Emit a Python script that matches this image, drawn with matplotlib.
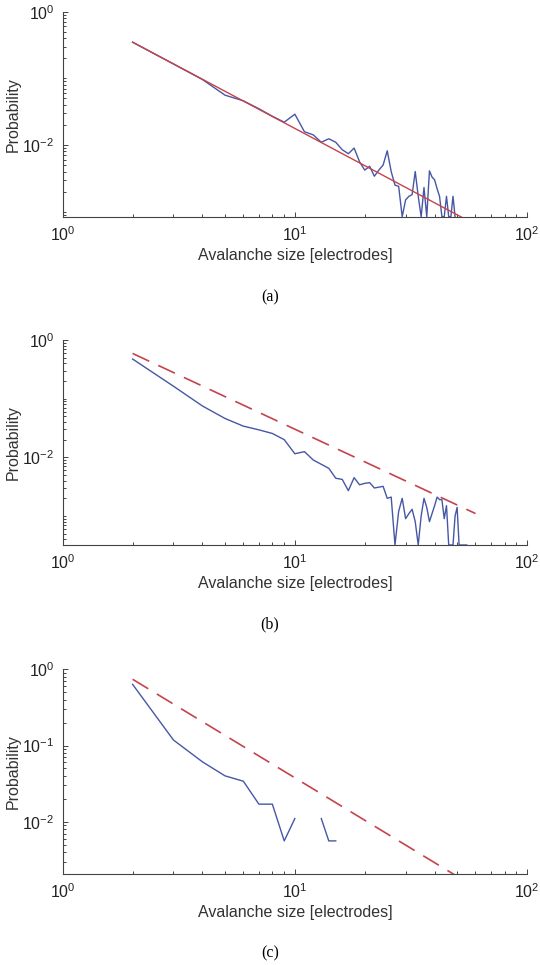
import numpy as np
import matplotlib
matplotlib.use("Agg")
import matplotlib.pyplot as plt
from matplotlib.ticker import LogLocator, NullFormatter, FixedLocator, LogFormatterSciNotation

plt.rcParams['font.family'] = ['Liberation Sans', 'DejaVu Sans']
plt.rcParams['mathtext.fontset'] = 'custom'
plt.rcParams['mathtext.rm'] = 'Liberation Sans'
plt.rcParams['mathtext.it'] = 'Liberation Sans:italic'
plt.rcParams['axes.unicode_minus'] = False

# ---- data ----
# (a)
size_a = list(range(2, 50))
prob_a = [0.348, 0.164, 0.096, 0.056, 0.046, 0.035, 0.027, 0.022, 0.029, 0.0158,
          0.0142, 0.011, 0.0124, 0.011, 0.0085, 0.0074, 0.0090, 0.0056, 0.0042, 0.0048,
          0.0034, 0.0042, 0.0050, 0.0082, 0.0040, 0.0025, 0.0024, 8.4e-4, 0.0015, 0.0017,
          0.0018, 0.0040, 0.0017, 8.4e-4, 0.0023, 8.4e-4, 0.0041, 0.0033, 0.0030, 0.0022,
          0.0017, 8.4e-4, 8.4e-4, 0.0017, 8.4e-4, 8.4e-4, 0.0017, 8.4e-4]
fit_x_a = [2, 60]
fit_y_a = [0.35, 6.4e-4]

# (b)
size_b = list(range(2, 56))
prob_b = [0.474, 0.163, 0.075, 0.046, 0.034, 0.0294, 0.0255, 0.020, 0.0115, 0.0125,
          0.0090, 0.0076, 0.0065, 0.0044, 0.0042, 0.0027, 0.0045, 0.0034, 0.0036, 0.0037,
          0.0030, 0.0031, 0.0032, 0.0020, 0.0021, 3.2e-4, 0.0012, 0.0020, 0.0009, 0.0011,
          0.0013, 0.0008, 3.2e-4, 0.0010, 0.0020, 0.0014, 0.0008, 0.0011, 0.0015, 0.0021,
          0.0019, 0.0019, 0.0009, 0.0015, 3.2e-4, 3.2e-4, 3.2e-4, 0.0010, 0.0014, 3.2e-4,
          3.2e-4, 3.2e-4, 3.2e-4, 3.2e-4]
fit_x_b = [2, 60]
fit_y_b = [0.59, 1.1e-3]

# (c)
size_c = list(range(2, 16))
prob_c = [0.635, 0.118, 0.061, 0.040, 0.034, 0.017, 0.017, 0.0056, 0.011, np.nan,
          np.nan, 0.011, 0.0056, 0.0056]
fit_x_c = [2, 60]
fit_y_c = [0.74, 1.37e-3]

ylims = [(8.4e-4, 1), (3.2e-4, 1), (2.06e-3, 1)]
ylabeled = [[1e0, 1e-2], [1e0, 1e-2], [1e0, 1e-1, 1e-2]]
captions = ['(a)', '(b)', '(c)']

blue = '#4657a5'
red = '#c4434c'
axcol = '#444444'

W, H = 540, 965
fig = plt.figure(figsize=(W / 100, H / 100), dpi=100)

def px_box(left, top, right, bottom):
    return [left / W, 1 - bottom / H, (right - left) / W, (bottom - top) / H]

boxes = [px_box(62.7, 11.7, 527, 216.7),
         px_box(62.7, 340, 527, 545),
         px_box(62.7, 669.3, 527, 874)]
cap_y = [297, 624, 953]

series = [(size_a, prob_a, fit_x_a, fit_y_a, '-'),
          (size_b, prob_b, fit_x_b, fit_y_b, '--'),
          (size_c, prob_c, fit_x_c, fit_y_c, '--')]

for i, (sx, sy, fx, fy, ls) in enumerate(series):
    ax = fig.add_axes(boxes[i])
    ax.set_xscale('log')
    ax.set_yscale('log')
    ax.plot(sx, sy, color=blue, lw=1.0, zorder=2)
    if ls == '-':
        ax.plot(fx, fy, color=red, lw=1.0, zorder=3)
    else:
        ax.plot(fx, fy, color=red, lw=1.2, linestyle=(0, (11, 6)), zorder=3)
    ax.set_xlim(1, 100)
    ax.set_ylim(*ylims[i])

    for s in ['top', 'right']:
        ax.spines[s].set_visible(False)
    for s in ['left', 'bottom']:
        ax.spines[s].set_color(axcol)
        ax.spines[s].set_linewidth(0.8)

    ax.xaxis.set_major_locator(FixedLocator([1, 10, 100]))
    ax.xaxis.set_major_formatter(LogFormatterSciNotation())
    ax.xaxis.set_minor_locator(LogLocator(base=10, subs=np.arange(2, 10)))
    ax.xaxis.set_minor_formatter(NullFormatter())

    ax.yaxis.set_major_locator(FixedLocator(ylabeled[i]))
    ax.yaxis.set_major_formatter(LogFormatterSciNotation())
    ax.yaxis.set_minor_locator(LogLocator(base=10, subs=np.arange(1, 10)))
    ax.yaxis.set_minor_formatter(NullFormatter())

    ax.tick_params(which='both', direction='in', color=axcol, labelcolor='#222222',
                   labelsize=11.5, width=0.7)
    ax.tick_params(which='major', length=3.5, pad=6)
    ax.tick_params(which='minor', length=2)

    ax.set_xlabel('Avalanche size [electrodes]', fontsize=11.5, color='#333333', labelpad=3)
    ax.set_ylabel('Probability', fontsize=11.5, color='#333333', labelpad=1)

    fig.text(0.5, 1 - cap_y[i] / H, captions[i], ha='center', va='center',
             family='Liberation Serif', fontsize=11.5, color='black')

fig.savefig('out.png', dpi=100)
